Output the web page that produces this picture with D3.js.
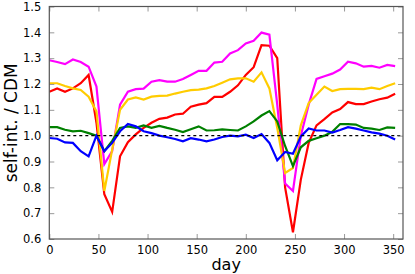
<!DOCTYPE html>
<html>
<head>
<meta charset="UTF-8">
<title>self-int. / CDM</title>
<script src="https://d3js.org/d3.v7.min.js"></script>
<style>
    body { margin: 0; background: #fff; }
    text { font-family: "DejaVu Sans", sans-serif; fill: #000; }
</style>
</head>
<body>
<div id="chart"></div>
<script>
// sample days (every 8 days)
var days = d3.range(0, 353, 8);

var red = [1.17, 1.183, 1.17, 1.183, 1.203, 1.235, 1.05, 0.773, 0.705, 0.92,
    0.975, 1.005, 1.03, 1.05, 1.065, 1.07, 1.082, 1.085, 1.112, 1.12,
    1.126, 1.15, 1.15, 1.17, 1.195, 1.235, 1.265, 1.35, 1.348, 1.30,
    0.80, 0.626, 0.83, 0.972, 1.04, 1.064, 1.09, 1.103, 1.13, 1.122,
    1.122, 1.132, 1.141, 1.147, 1.162];
var magenta = [1.292, 1.285, 1.277, 1.295, 1.285, 1.267, 1.19, 0.89, 0.94, 1.12,
    1.17, 1.18, 1.182, 1.209, 1.215, 1.209, 1.209, 1.219, 1.235, 1.251,
    1.251, 1.283, 1.286, 1.318, 1.331, 1.357, 1.367, 1.399, 1.391, 1.12,
    0.815, 0.786, 1.0, 1.12, 1.22, 1.23, 1.24, 1.256, 1.286, 1.28,
    1.267, 1.27, 1.263, 1.274, 1.269];
var yellow = [1.203, 1.203, 1.192, 1.183, 1.177, 1.151, 1.094, 0.786, 0.946, 1.1,
    1.14, 1.148, 1.14, 1.151, 1.154, 1.155, 1.163, 1.17, 1.176, 1.178,
    1.183, 1.192, 1.205, 1.218, 1.222, 1.222, 1.209, 1.245, 1.183, 1.03,
    0.856, 0.875, 1.04, 1.126, 1.158, 1.19, 1.173, 1.18, 1.181, 1.181,
    1.18, 1.186, 1.18, 1.192, 1.203];
var green = [1.033, 1.033, 1.023, 1.017, 1.019, 1.01, 1.0, 0.94, 0.98, 1.03,
    1.036, 1.03, 1.04, 1.03, 1.038, 1.03, 1.023, 1.014, 1.025, 1.036,
    1.02, 1.021, 1.024, 1.022, 1.02, 1.036, 1.055, 1.078, 1.095, 1.055,
    0.96, 0.882, 0.955, 0.98, 0.99, 1.0, 1.015, 1.045, 1.045, 1.043,
    1.03, 1.027, 1.022, 1.032, 1.03];
var blue = [0.991, 0.988, 0.974, 0.972, 0.94, 0.92, 1.0, 0.94, 0.972, 1.017,
    1.045, 1.036, 1.017, 1.01, 1.0, 0.994, 0.987, 0.978, 0.99, 0.985,
    0.978, 0.985, 0.995, 1.0, 0.997, 1.004, 0.991, 1.006, 0.972, 0.905,
    0.937, 0.93, 0.997, 1.028, 1.02, 1.02, 1.012, 1.022, 1.033, 1.027,
    1.02, 1.013, 1.008, 1.0, 0.985];

var xTicks = [0, 50, 100, 150, 200, 250, 300, 350];
var yTicks = [0.6, 0.7, 0.8, 0.9, 1.0, 1.1, 1.2, 1.3, 1.4, 1.5];

var series = [
    {name: "red", color: "#ff0000", values: red},
    {name: "magenta", color: "#ff00ff", values: magenta},
    {name: "yellow", color: "#ffcc00", values: yellow},
    {name: "green", color: "#008000", values: green},
    {name: "blue", color: "#0000ff", values: blue}
];

var W = 415, H = 274;
var margin = {top: 6.5, right: 12, bottom: 35, left: 49.3};
var width = W - margin.left - margin.right,
    height = H - margin.top - margin.bottom;

var x = d3.scaleLinear().domain([0, 360]).range([0, width]);
var y = d3.scaleLinear().domain([0.6, 1.5]).range([height, 0]);

var svg = d3.select("#chart").append("svg")
    .attr("width", W)
    .attr("height", H)
    .append("g")
    .attr("transform", "translate(" + margin.left + "," + margin.top + ")");

var line = d3.line()
    .x(function(d, i) { return x(days[i]); })
    .y(function(d) { return y(d); });

svg.append("defs").append("clipPath").attr("id", "clip")
    .append("rect").attr("width", width).attr("height", height);

var plot = svg.append("g").attr("clip-path", "url(#clip)");

plot.selectAll(".series")
    .data(series)
    .enter().append("path")
    .attr("class", "series")
    .attr("fill", "none")
    .attr("stroke", function(d) { return d.color; })
    .attr("stroke-width", 2.2)
    .attr("stroke-linejoin", "miter")
    .attr("d", function(d) { return line(d.values); });

// reference line at 1
plot.append("line")
    .attr("x1", 0).attr("x2", width)
    .attr("y1", y(1)).attr("y2", y(1))
    .attr("stroke", "#000")
    .attr("stroke-width", 1.3)
    .attr("stroke-dasharray", "3,3");

// axes with inward ticks, ticks on all four sides
var tickColor = "#999";
var bottomAxis = d3.axisBottom(x).tickValues(xTicks).tickSize(-5).tickPadding(7)
    .tickFormat(d3.format("d"));
var topAxis = d3.axisTop(x).tickValues(xTicks).tickSize(-5).tickFormat("");
var leftAxis = d3.axisLeft(y).tickValues(yTicks).tickSize(-5).tickPadding(8)
    .tickFormat(d3.format(".1f"));
var rightAxis = d3.axisRight(y).tickValues(yTicks).tickSize(-5).tickFormat("");

function style(g) {
    g.select(".domain").remove();
    g.selectAll(".tick line").attr("stroke", tickColor).attr("stroke-width", 1);
    g.selectAll(".tick text").attr("font-size", 11.5).attr("font-family", "DejaVu Sans, sans-serif");
}

svg.append("g").attr("transform", "translate(0," + height + ")").call(bottomAxis).call(style);
svg.append("g").call(topAxis).call(style);
svg.append("g").call(leftAxis).call(style);
svg.append("g").attr("transform", "translate(" + width + ",0)").call(rightAxis).call(style);

svg.append("rect")
    .attr("width", width).attr("height", height)
    .attr("fill", "none")
    .attr("stroke", "#555")
    .attr("stroke-width", 1.2);

svg.append("text")
    .attr("x", width / 2)
    .attr("y", height + 31)
    .attr("text-anchor", "middle")
    .attr("font-size", 16)
    .text("day");

svg.append("text")
    .attr("transform", "translate(-32," + (height / 2) + ") rotate(-90)")
    .attr("text-anchor", "middle")
    .attr("font-size", 17)
    .text("self-int. / CDM");
</script>
</body>
</html>
